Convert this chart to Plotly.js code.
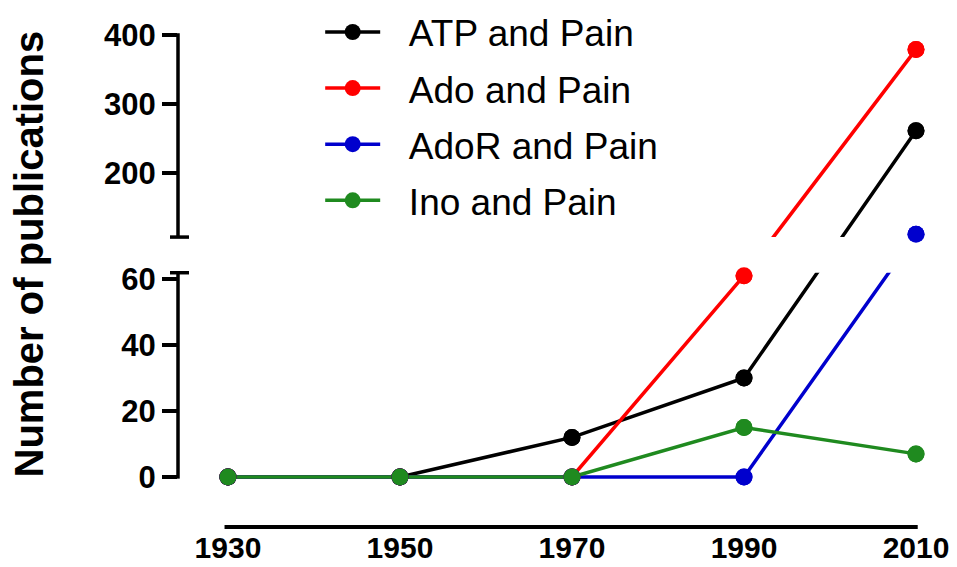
<!DOCTYPE html>
<html><head><meta charset="utf-8">
<script src="https://cdn.plot.ly/plotly-3.0.1.min.js"></script>
<style>html,body{margin:0;padding:0;background:#fff;}#chart{width:957px;height:567px;}</style>
</head><body><div id="chart"></div>
<script>
// ---- data ----
const years = [1930, 1950, 1970, 1990, 2010];
const atpPain = [0, 0, 12, 30, 261];
const adoPain = [0, 0, 0, 61, 379];
const adorPain = [0, 0, 0, 0, 111];
const inoPain = [0, 0, 0, 15, 7];
const seriesNames = ['ATP and Pain', 'Ado and Pain', 'AdoR and Pain', 'Ino and Pain'];
const seriesColors = ['#000000', '#ff0000', '#0000cd', '#1f8a1f'];
const lowerTicks = [0, 20, 40, 60];
const upperTicks = [200, 300, 400];

// ---- broken (two segment) y scale ----
const lowerMax = 62;      // top of lower segment
const upperMin = 107;     // bottom of upper segment
const gapDisp = 10.7;     // display units of the break gap
const upperScale = 0.2091;
function disp(v) { return v <= lowerMax ? v : lowerMax + gapDisp + (v - upperMin) * upperScale; }
const gapLo = lowerMax - 0.1, gapHi = disp(upperMin);

const allSeries = [atpPain, adoPain, adorPain, inoPain];
const xRange = [1924.19, 2012.79];
const yRange = [-12.73, 135.45];

const traces = [];
allSeries.forEach((s, i) => {
  traces.push({
    x: years, y: s.map(disp), type: 'scatter', mode: 'lines+markers',
    name: '\u2007\u200A' + seriesNames[i], legendgroup: 'g' + i,
    line: {color: seriesColors[i], width: 3.5},
    marker: {color: seriesColors[i], size: 17},
    hoverinfo: 'skip', cliponaxis: false
  });
});
// white band hiding the lines inside the axis break
traces.push({
  x: [xRange[0], xRange[1], xRange[1], xRange[0]], y: [gapLo, gapLo, gapHi, gapHi],
  type: 'scatter', mode: 'none', fill: 'toself', fillcolor: '#ffffff',
  showlegend: false, hoverinfo: 'skip'
});
allSeries.forEach((s, i) => {
  traces.push({
    x: years, y: s.map(disp), type: 'scatter', mode: 'markers',
    marker: {color: seriesColors[i], size: 17},
    showlegend: false, hoverinfo: 'skip', cliponaxis: false
  });
});

const tickVals = lowerTicks.concat(upperTicks).map(disp);
const tickText = lowerTicks.concat(upperTicks).map(String);

const axisLine = {color: '#000', width: 3.5};
const shapes = [
  {type: 'line', xref: 'paper', yref: 'y', x0: 0, x1: 0, y0: -0.5, y1: gapLo, line: axisLine},
  {type: 'line', xref: 'paper', yref: 'y', xsizemode: 'pixel', xanchor: 0, x0: -8, x1: 11, y0: gapLo, y1: gapLo, line: axisLine},
  {type: 'line', xref: 'paper', yref: 'y', x0: 0, x1: 0, y0: gapHi, y1: disp(400) + 0.5, line: axisLine},
  {type: 'line', xref: 'paper', yref: 'y', xsizemode: 'pixel', xanchor: 0, x0: -8, x1: 11, y0: gapHi, y1: gapHi, line: axisLine},
  {type: 'line', xref: 'x', yref: 'paper', ysizemode: 'pixel', yanchor: 0,
   x0: years[0] - 0.4, x1: years[years.length - 1] + 0.2, y0: -8, y1: -8, line: {color: '#000', width: 4}}
];

const layout = {
  width: 957, height: 567,
  margin: {l: 178, r: 17, t: 30, b: 48, autoexpand: false},
  paper_bgcolor: '#fff', plot_bgcolor: '#fff',
  font: {family: 'Liberation Sans, Arial, sans-serif', color: '#000'},
  xaxis: {
    range: xRange, tickvals: years, ticktext: years.map(String),
    showgrid: false, zeroline: false, showline: false,
    ticks: 'outside', ticklen: 2, tickcolor: 'rgba(0,0,0,0)',
    tickfont: {size: 30, weight: 'bold', color: '#000'}
  },
  yaxis: {
    range: yRange, tickvals: tickVals, ticktext: tickText,
    showgrid: false, zeroline: false, showline: false,
    ticks: 'outside', ticklen: 15, tickwidth: 3.5, tickcolor: '#000',
    tickfont: {size: 31, weight: 'bold', color: '#000'}
  },
  shapes: shapes,
  annotations: [{
    text: 'Number of publications', textangle: -90,
    xref: 'paper', yref: 'paper', x: 0, y: 0.541, xanchor: 'center', yanchor: 'middle',
    xshift: -149, showarrow: false,
    font: {size: 40, weight: 'bold', color: '#000'}
  }],
  legend: {
    x: 0.1866, y: 1.0584, xanchor: 'left', yanchor: 'top',
    bgcolor: 'rgba(0,0,0,0)', borderwidth: 0,
    font: {size: 37, color: '#000'}, itemwidth: 55, tracegroupgap: 5
  },
  showlegend: true
};

Plotly.newPlot('chart', traces, layout, {displayModeBar: false, staticPlot: true});
</script>
</body></html>
